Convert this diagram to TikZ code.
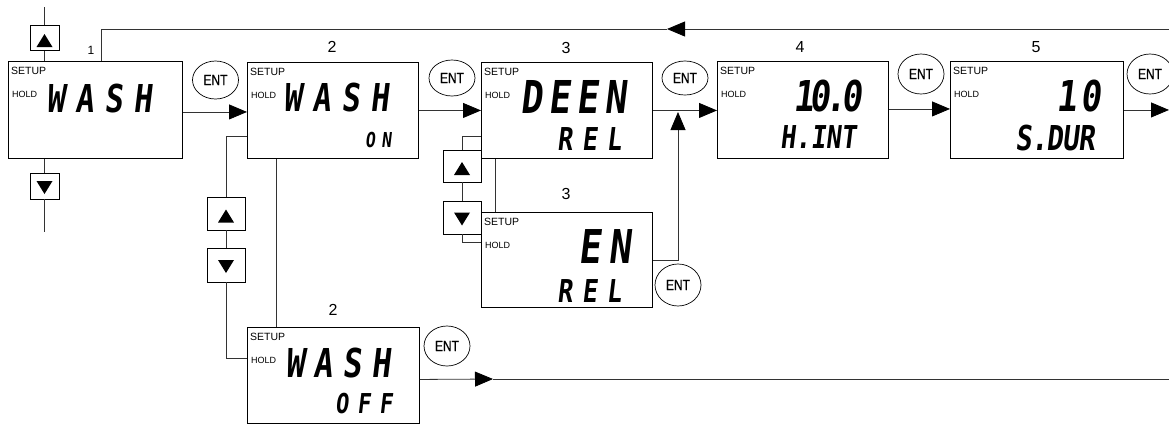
\documentclass[tikz,border=0pt]{standalone}
\usepackage{fontspec}
\setmainfont{Liberation Sans}
\newfontfamily\segfont{DejaVu Sans Mono}[FakeStretch=0.8,FakeSlant=0.12]
\newfontfamily\entfont{Liberation Sans}[FakeStretch=0.8,FakeBold=0.6]
\newcommand\lcdtxt[3]{{\fontsize{#1}{#1}\selectfont\segfont\bfseries\addfontfeatures{LetterSpace=#2}#3}}
\newcommand\fsz[1]{\fontsize{#1}{#1}\selectfont}
\usetikzlibrary{arrows.meta,shapes.geometric}
\tikzset{
  lcdbox/.style={draw, line width=0.9pt, inner sep=0pt, anchor=north west,
     minimum width=171pt, minimum height=96pt},
  ent/.style={draw, ellipse, line width=0.7pt, inner sep=0pt,
     minimum width=46pt, minimum height=38pt, execute at begin node={\entfont\fsz{15}}},
  btnup/.style={draw, line width=0.8pt, inner sep=0pt,
     path picture={\fill ([shift={(0,-4)}]path picture bounding box.center)
        -- ([shift={(8,9)}]path picture bounding box.center)
        -- ([shift={(-8,9)}]path picture bounding box.center) -- cycle;}},
  btndown/.style={draw, line width=0.8pt, inner sep=0pt,
     path picture={\fill ([shift={(0,8)}]path picture bounding box.center)
        -- ([shift={(8,-5)}]path picture bounding box.center)
        -- ([shift={(-8,-5)}]path picture bounding box.center) -- cycle;}},
  conn/.style={draw=black!80, line width=0.8pt},
  arr/.style={conn, -{Triangle[length=18pt,width=15pt,color=black,fill=black]}},
  setuplbl/.style={anchor=west, inner sep=0pt, execute at begin node={\fsz{10.5}}},
  holdlbl/.style={anchor=west, inner sep=0pt, execute at begin node={\fsz{9}}},
  numlbl/.style={inner sep=0pt, execute at begin node={\fsz{16}}},
  disp/.style={anchor=base west, inner sep=0pt},
}
\begin{document}
\begin{tikzpicture}[x=1pt,y=-1pt]
\useasboundingbox (0,0) rectangle (1169,424);

% display boxes
\node[lcdbox, minimum width=174pt, minimum height=97pt] (b1) at (8,61) {};
\node[lcdbox] (b2) at (247,62) {};
\node[lcdbox] (b3) at (481,62) {};
\node[lcdbox, minimum height=95pt] (b3b) at (481,212) {};
\node[lcdbox, minimum width=172pt] (b2b) at (247,327) {};
\node[lcdbox, minimum height=97pt] (b4) at (717,61) {};
\node[lcdbox, minimum width=173pt, minimum height=97pt] (b5) at (950,61) {};

% SETUP / HOLD labels
\foreach \b in {b1,b2,b3,b3b,b2b,b4,b5}{
  \node[setuplbl] (\b s) at ([shift={(3,9.5)}]\b.north west) {SETUP};
  \node[holdlbl] (\b h) at ([shift={(4,33)}]\b.north west) {HOLD};
}

% display texts
\node[disp] (t1) at (46,112) {\lcdtxt{38.4}{28}{WASH}};
\node[disp] (t2) at (283,111) {\lcdtxt{38.4}{28}{WASH}};
\node[disp] (t2o) at (365,147) {\lcdtxt{20.6}{30}{ON}};
\node[disp] (t3) at (520,113) {\lcdtxt{45.3}{14}{DEEN}};
\node[disp] (t3r) at (557,150) {\lcdtxt{31.5}{30}{REL}};
\node[disp] (t3b) at (578,263) {\lcdtxt{46.6}{16}{EN}};
\node[disp] (t3br) at (557,302) {\lcdtxt{31.5}{30}{REL}};
\node[disp] (t4) at (793,111) {\lcdtxt{42.5}{-10}{10.0}};
\node[disp] (t4h) at (780,148) {\lcdtxt{31.5}{0}{H.INT}};
\node[disp] (t5) at (1056,111) {\lcdtxt{42.5}{8}{10}};
\node[disp] (t5s) at (1015,150) {\lcdtxt{34.3}{-2}{S.DUR}};
\node[disp] (t2b) at (285,377) {\lcdtxt{39.8}{24}{WASH}};
\node[disp] (t2bo) at (335,413) {\lcdtxt{27.4}{32}{OFF}};

% step numbers
\node[inner sep=0pt] (n1) at (91,50) {\fsz{12}1};
\node[numlbl] (n2) at (332,47) {2};
\node[numlbl] (n3) at (566,48) {3};
\node[numlbl] (n3b) at (566,194) {3};
\node[numlbl] (n4) at (800,47) {4};
\node[numlbl] (n5) at (1036,47) {5};
\node[numlbl] (n2b) at (333,310) {2};

% ENT keys
\node[ent, minimum height=38pt] (e1) at (215.5,80) {ENT};
\node[ent, minimum height=36pt] (e2) at (452,78) {ENT};
\node[ent, minimum height=34pt] (e3) at (685,78) {ENT};
\node[ent, minimum height=42pt] (e3b) at (678,285) {ENT};
\node[ent, minimum height=40pt] (e4) at (921,74) {ENT};
\node[ent, minimum height=40pt] (e5) at (1150,74) {ENT};
\node[ent, minimum height=40pt] (e2b) at (447,346) {ENT};

% arrow keys
\node[btnup, minimum width=29pt, minimum height=25pt] (u1) at (44.5,38) {};
\node[btndown, minimum width=29pt, minimum height=26pt] (d1) at (44.5,186) {};
\node[btnup, minimum width=38pt, minimum height=33pt] (u2) at (226,213.5) {};
\node[btndown, minimum width=38pt, minimum height=34pt] (d2) at (226,265) {};
\node[btnup, minimum width=38pt, minimum height=32pt] (u3) at (462,166) {};
\node[btndown, minimum width=38pt, minimum height=33pt] (d3) at (462,217.5) {};

% free ends
\coordinate (top1) at (44.5,7);
\coordinate (bot1) at (44.5,232);
\coordinate (fbR) at (1169,29);
\coordinate (fbM) at (667,29);
\coordinate (fbL) at (101,61);
\coordinate (offM) at (493,379);
\coordinate (offR) at (1169,379);
\coordinate (upTip) at (678,112);
\coordinate (outR) at (1169,109);

% connectors
\draw[conn] (top1) -- (u1);
\draw[conn] (u1) -- (u1 |- b1.north);
\draw[conn] (b1.south -| d1) -- (d1);
\draw[conn] (d1) -- (bot1);

\draw[arr] (fbR) -- (fbM);
\draw[conn] (fbM) -| (fbL);

\draw[arr] ([yshift=-2pt]b1.east) -- ([yshift=-2pt]b1.east -| b2.west);
\draw[conn] ([yshift=-26pt]b2.west) -| (u2.north);
\draw[conn] (u2) -- (d2);
\draw[conn] (d2.south) |- ([yshift=17pt]b2b.west);
\draw[conn] ([xshift=-56.5pt]b2.south) -- ([xshift=-56.5pt]b2.south |- b2b.north);
\draw[arr] ([yshift=-4pt]b2b.east) -- (offM);
\draw[conn] (offM) -- (offR);

\draw[arr] (b2.east) -- (b2.east -| b3.west);
\draw[conn] ([yshift=-26pt]b3.west) -| (u3.north);
\draw[conn] (u3) -- (d3);
\draw[conn] (d3.south) |- ([yshift=17.5pt]b3b.west);
\draw[conn] ([xshift=-71.5pt]b3.south) -- ([xshift=-71.5pt]b3.south |- b3b.north);
\draw[arr] (b3.east) -- (b3.east -| b4.west);
\draw[arr] (b3b.east) -| (upTip);

\draw[arr] ([yshift=1pt]b4.east) -- ([yshift=1pt]b4.east -| b5.west);
\draw[arr] (b5.east) -- (b5.east -| outR);
\end{tikzpicture}
\end{document}
